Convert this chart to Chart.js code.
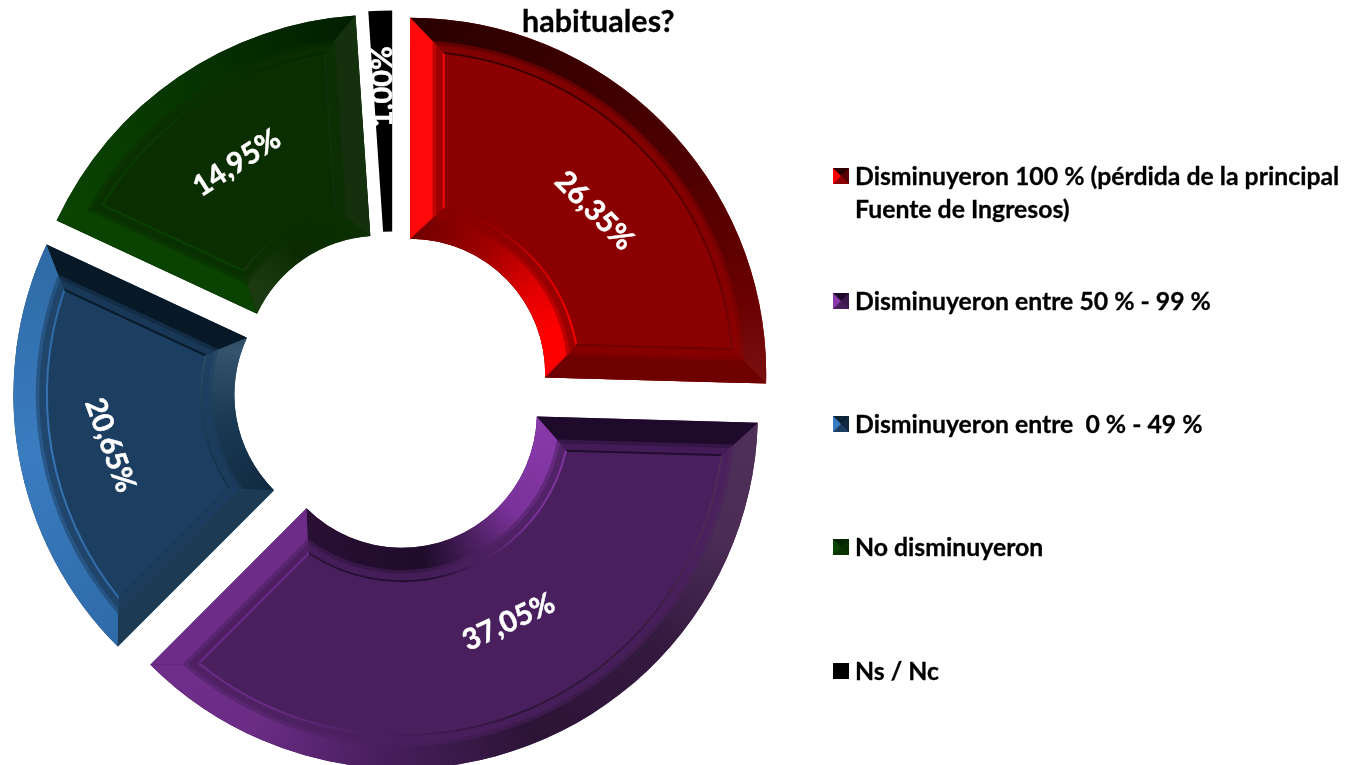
<!DOCTYPE html>
<html lang="es">
<head>
<meta charset="utf-8">
<title>habituales?</title>
<script src="https://cdn.jsdelivr.net/npm/chart.js@4/dist/chart.umd.min.js"></script>
<style>
  html, body { margin: 0; padding: 0; background: #fff; overflow: hidden; }
  #wrap { position: relative; width: 1347px; height: 765px; font-family: Lato, sans-serif; font-weight: 700; color: #000; }
  canvas { position: absolute; left: 0; top: 0; }
  .title { position: absolute; left: 522px; top: 0; font-size: 30.5px; line-height: 40px; white-space: nowrap; -webkit-text-stroke: .3px #000; }
  .item { position: absolute; left: 855px; font-size: 24.8px; line-height: 33px; white-space: pre; -webkit-text-stroke: .3px #000; }
  .swatch { position: absolute; left: 833px; width: 0; height: 0; border-style: solid; border-width: 8.5px; }
</style>
</head>
<body>
<div id="wrap">
  <canvas id="c" width="1347" height="765"></canvas>
  <div class="title" id="title"></div>
</div>
<script>
// Categories, legend order
const categories = [
  ["Disminuyeron 100 % (pérdida de la principal", "Fuente de Ingresos)"],
  ["Disminuyeron entre 50 % - 99 %"],
  ["Disminuyeron entre  0 % - 49 %"],
  ["No disminuyeron"],
  ["Ns / Nc"]
];
// Percentages as printed on the slices
const printedLabels = ["26,35%", "37,05%", "20,65%", "14,95%", "1,00%"];
// Share of the ring each slice occupies, measured from its edges in the picture.
// The printed figures and the drawn sweep differ slightly in the reference.
const sliceShares = [25.44, 37.05, 19.44, 17.00, 1.07];
const titleText = "habituales?";

// Styles
const baseColors = ["#8b0000", "#4a1f5e", "#1c3e60", "#0a2e00", "#000000"];
const outerStops = [
  [[0, "#2a0000"], [.3, "#3a0000"], [.6, "#500000"], [.85, "#6a0000"], [1, "#7a1010"]],
  [[0, "#4f3058"], [.15, "#4a2c55"], [.3, "#351a40"], [.5, "#2c1436"], [.7, "#4a1f60"], [.85, "#6a2c85"], [1, "#702e8c"]],
  [[0, "#2f6aa8"], [.5, "#3a7cc0"], [1, "#2e6aa5"]],
  [[0, "#0a4500"], [.5, "#063500"], [1, "#021e00"]],
  null
];
const innerStops = [
  [[0, "#6e0000"], [.35, "#a00000"], [.6, "#e00000"], [.8, "#ff0000"], [1, "#ff0000"]],
  [[0, "#8a3aac"], [.3, "#7a329a"], [.45, "#4a1f5e"], [.6, "#1e0c2a"], [1, "#2a1035"]],
  [[0, "#10293f"], [.5, "#1a3a54"], [.9, "#34546c"], [1, "#2f4d64"]],
  [[0, "#1b3a10"], [.15, "#1c3a12"], [.5, "#0a2b00"], [1, "#0a3000"]],
  null
];
const startFace = ["#ff0a0a", "#1e0a2a", "#1c3a52", "#0a4300", "#000000"];
const endFace = ["#6f0000", "#6c2c88", "#071826", "#14300d", "#000000"];
const swatchBorders = [
  ["#2a0000", "#5a0000", "#8b0000", "#ff0000"],
  ["#1e0a2a", "#3a1a4a", "#4a1f5e", "#8a3aac"],
  ["#0d2436", "#12293f", "#1c3e60", "#3a7cc0"],
  ["#062500", "#0a3000", "#0b3300", "#0a4500"],
  ["#000000", "#000000", "#000000", "#000000"]
];
const legendCenters = [176, 301, 424, 547, 671];
const labelRadius = [246, 235, 264, 252, 280];
const labelAngleShift = [2.7, -5.3, -1, 0, 0];
const labelRotation = [45, -25, 70, -33, -90];
const OFFSET = 96, BEVEL = 22, GROOVE = 34;

document.getElementById("title").textContent = titleText;
const wrap = document.getElementById("wrap");
categories.forEach((lines, i) => {
  const s = document.createElement("div");
  s.className = "swatch";
  s.style.top = (legendCenters[i] - 8.5) + "px";
  s.style.borderColor = swatchBorders[i].join(" ");
  wrap.appendChild(s);
  lines.forEach((t, j) => {
    const d = document.createElement("div");
    d.className = "item";
    d.style.top = (legendCenters[i] - 17.5 + j * 33) + "px";
    d.textContent = t;
    wrap.appendChild(d);
  });
});

function geom(arc) {
  const half = (arc.startAngle + arc.endAngle) / 2, shift = OFFSET / 4;
  return {
    cx: arc.x + Math.cos(half) * shift,
    cy: arc.y + Math.sin(half) * shift,
    R: arc.outerRadius + shift,
    r: arc.innerRadius,
    a1: arc.startAngle,
    a2: arc.endAngle,
    half
  };
}
function pt(g, rad, ang) { return [g.cx + rad * Math.cos(ang), g.cy + rad * Math.sin(ang)]; }
function ringPath(ctx, g, r1, r2, d1, d2) {
  ctx.beginPath();
  ctx.arc(g.cx, g.cy, r1, g.a1 + Math.asin(d1 / r1), g.a2 - Math.asin(d1 / r1));
  ctx.arc(g.cx, g.cy, r2, g.a2 - Math.asin(d2 / r2), g.a1 + Math.asin(d2 / r2), true);
  ctx.closePath();
}
function sideBand(ctx, g, d1, d2, sign, base) {
  const ro1 = g.R - d1, ro2 = g.R - d2, ri1 = g.r + d1, ri2 = g.r + d2;
  const p = [pt(g, ro1, base + sign * Math.asin(d1 / ro1)), pt(g, ro2, base + sign * Math.asin(d2 / ro2)),
             pt(g, ri2, base + sign * Math.asin(d2 / ri2)), pt(g, ri1, base + sign * Math.asin(d1 / ri1))];
  ctx.beginPath();
  p.forEach((q, i) => i ? ctx.lineTo(q[0], q[1]) : ctx.moveTo(q[0], q[1]));
  ctx.closePath();
}
function conic(ctx, g, stops) {
  const grad = ctx.createConicGradient(g.a1, g.cx, g.cy);
  const span = (g.a2 - g.a1) / (Math.PI * 2);
  stops.forEach(s => grad.addColorStop(s[0] * span, s[1]));
  grad.addColorStop(Math.min(1, span + 1e-4), stops[stops.length - 1][1]);
  grad.addColorStop(1, stops[0][1]);
  return grad;
}
function drawRing(ctx, g, o, n, s, e, d1, d2, alpha) {
  ctx.globalAlpha = alpha;
  ctx.fillStyle = o; ringPath(ctx, g, g.R - d1, g.R - d2, d1, d2); ctx.fill();
  ctx.fillStyle = n; ringPath(ctx, g, g.r + d1, g.r + d2, d1, d2); ctx.fill();
  ctx.fillStyle = s; sideBand(ctx, g, d1, d2, 1, g.a1); ctx.fill();
  ctx.fillStyle = e; sideBand(ctx, g, d1, d2, -1, g.a2); ctx.fill();
  ctx.globalAlpha = 1;
}
const bevelPlugin = {
  id: "bevel",
  afterDatasetDraw(chart) {
    const ctx = chart.ctx;
    chart.getDatasetMeta(0).data.forEach((arc, i) => {
      const g = geom(arc);
      ctx.save();
      ctx.fillStyle = baseColors[i];
      ringPath(ctx, g, g.R, g.r, 0, 0);
      ctx.fill();
      if (outerStops[i]) {
        const o = conic(ctx, g, outerStops[i]), n = conic(ctx, g, innerStops[i]);
        const s = startFace[i], e = endFace[i];
        drawRing(ctx, g, o, n, s, e, BEVEL, BEVEL + 4, .45);
        drawRing(ctx, g, o, n, s, e, BEVEL + 4, GROOVE, .14);
        drawRing(ctx, g, o, n, s, e, GROOVE - 1.5, GROOVE + .5, .9);
        drawRing(ctx, g, o, n, s, e, 0, BEVEL + .4, 1);
      }
      ctx.restore();
    });
  }
};
const labelPlugin = {
  id: "sliceLabels",
  afterDatasetsDraw(chart) {
    const ctx = chart.ctx;
    chart.getDatasetMeta(0).data.forEach((arc, i) => {
      const g = geom(arc);
      const a = g.half + labelAngleShift[i] * Math.PI / 180;
      const p = pt(g, labelRadius[i], a);
      ctx.save();
      ctx.translate(p[0], p[1]);
      ctx.rotate(labelRotation[i] * Math.PI / 180);
      ctx.font = "700 29px Lato, sans-serif";
      ctx.fillStyle = "#ffffff";
      ctx.strokeStyle = "#ffffff";
      ctx.lineWidth = .5;
      ctx.textAlign = "center";
      ctx.textBaseline = "middle";
      ctx.fillText(printedLabels[i], 0, 0);
      ctx.strokeText(printedLabels[i], 0, 0);
      ctx.restore();
    });
  }
};

new Chart(document.getElementById("c"), {
  type: "doughnut",
  data: {
    labels: categories.map(l => l.join(" ")),
    datasets: [{
      data: sliceShares,
      backgroundColor: baseColors,
      borderWidth: 0,
      offset: OFFSET,
      radius: 332
    }]
  },
  options: {
    responsive: false,
    animation: false,
    radius: 332,
    cutout: "40.66%",
    layout: { padding: { left: 0, right: 561, top: 16, bottom: 0 } },
    plugins: { legend: { display: false }, tooltip: { enabled: false } }
  },
  plugins: [bevelPlugin, labelPlugin]
});
</script>
</body>
</html>
